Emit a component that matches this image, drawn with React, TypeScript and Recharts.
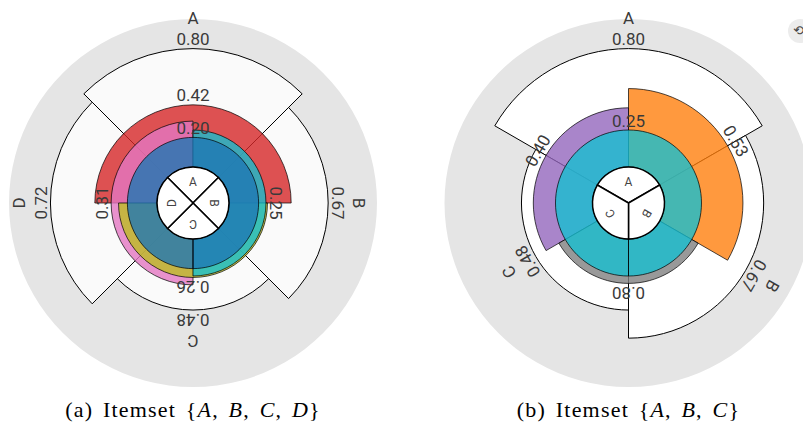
import { RadialBarChart, RadialBar, PolarAngleAxis, PolarRadiusAxis, PieChart, Pie, LabelList } from 'recharts'

const W = 803
const H = 424
const HUB_R = 36
const MAX_R = 184
const RAD = Math.PI / 180
const TEXT_FONT = 'Roboto, "Noto Sans", sans-serif'

// panel (a): itemset {A, B, C, D}
const itemsA = ['A', 'B', 'C', 'D']
const supportA = [0.8, 0.67, 0.48, 0.72]
const supportLabelsA = ['0.80', '0.67', '0.48', '0.72']
const layerSetsA = ['ABD', 'ACD', 'BCD', 'ABC', 'ABCD']
const layerFromA = ['D', 'C', 'B', 'A', 'A']
const layerToA = ['B', 'A', 'D', 'C', 'A']
const layerValuesA = [0.42, 0.31, 0.26, 0.25, 0.2]
const layerLabelsA = ['0.42', '0.31', '0.26', '0.25', '0.20']
const layerColorsA = ['#d62728', '#e377c2', '#bcbd22', '#17becf', '#1f77b4']

// panel (b): itemset {A, B, C}
const itemsB = ['A', 'B', 'C']
const supportB = [0.8, 0.67, 0.48]
const supportLabelsB = ['0.80', '0.67', '0.48']
const layerSetsB = ['AB', 'AC', 'BC', 'ABC']
const layerFromB = ['A', 'C', 'B', 'A']
const layerToB = ['B', 'A', 'C', 'A']
const layerValuesB = [0.53, 0.4, 0.3, 0.25]
const layerLabelsB = ['0.53', '0.40', '0.80', '0.25']
const layerColorsB = ['#ff7f0e', '#9467bd', '#7f7f7f', '#17becf']

// center angle of an item (A on top, clockwise)
function itemAngle(items: string[], item: string) {
  return 90 - (items.indexOf(item) * 360) / items.length
}

// text placed just outside a polar sector, rotated along the arc
function arcText(gap: number, size: number, fill: string) {
  return (props: any) => {
    const { viewBox, value } = props
    if (!viewBox) return null
    const { cx, cy, outerRadius, startAngle, endAngle } = viewBox
    const mid = (startAngle + endAngle) / 2
    const r = outerRadius + gap
    const x = cx + r * Math.cos(-mid * RAD)
    const y = cy + r * Math.sin(-mid * RAD)
    return (
      <text
        x={x}
        y={y}
        transform={`rotate(${90 - mid} ${x} ${y})`}
        textAnchor="middle"
        fontSize={size}
        fill={fill}
        fontFamily={TEXT_FONT}
      >
        {value}
      </text>
    )
  }
}

function hubLabel(props: any) {
  const { cx, cy, midAngle, name } = props
  const r = 21
  const x = cx + r * Math.cos(-midAngle * RAD)
  const y = cy + r * Math.sin(-midAngle * RAD)
  return (
    <text
      x={x}
      y={y}
      transform={`rotate(${90 - midAngle} ${x} ${y})`}
      textAnchor="middle"
      dominantBaseline="central"
      fontSize={12}
      fill="#444"
      fontFamily={TEXT_FONT}
    >
      {name}
    </text>
  )
}

const layerStyle: React.CSSProperties = { position: 'absolute', left: 0, top: 0 }

// clockwise span startAngle -> endAngle. The polar angle axis puts a category
// band one bandwidth past its scale position, so the range is shifted back by one band.
function RoseLayer({ cx, data, startAngle, endAngle, fill, fillOpacity, strokeOpacity, withNames }: any) {
  const band = (startAngle - endAngle) / data.length
  return (
    <div style={layerStyle}>
      <RadialBarChart
        width={W}
        height={H}
        cx={cx}
        cy={203}
        innerRadius={HUB_R}
        outerRadius={MAX_R}
        startAngle={startAngle - band}
        endAngle={endAngle - band}
        layout="centric"
        data={data}
        barCategoryGap={0}
        barGap={0}
        margin={{ top: 0, right: 0, bottom: 0, left: 0 }}
      >
        <PolarAngleAxis type="category" dataKey="name" tick={false} axisLine={false} tickLine={false} />
        <PolarRadiusAxis type="number" domain={[0, 1]} tick={false} axisLine={false} tickLine={false} />
        <RadialBar
          dataKey="value"
          fill={fill}
          fillOpacity={fillOpacity}
          stroke="#000"
          strokeOpacity={strokeOpacity}
          strokeWidth={1}
          isAnimationActive={false}
        >
          <LabelList dataKey="label" content={arcText(3.5, 17, '#3a3a3a')} />
          {withNames && <LabelList dataKey="name" content={arcText(25, 17, '#3a3a3a')} />}
        </RadialBar>
      </RadialBarChart>
    </div>
  )
}

function RosePanel({ cx, items, support, supportLabels, sets, from, to, values, labels, colors, outerOpacity, caption }: any) {
  const first = itemAngle(items, items[0]) + 180 / items.length
  const outerData = items.map((name: string, i: number) => ({ name, value: support[i], label: supportLabels[i] }))
  const hubData = items.map((name: string) => ({ name, value: 1 }))
  return (
    <>
      <div style={layerStyle}>
        <PieChart width={W} height={H} margin={{ top: 0, right: 0, bottom: 0, left: 0 }}>
          <Pie
            data={[{ name: 'bg', value: 1 }]}
            dataKey="value"
            cx={cx}
            cy={203}
            outerRadius={MAX_R}
            fill="#e5e5e5"
            stroke="none"
            isAnimationActive={false}
          />
        </PieChart>
      </div>
      <RoseLayer
        cx={cx}
        data={outerData}
        startAngle={first}
        endAngle={first - 360}
        fill="#ffffff"
        fillOpacity={outerOpacity}
        strokeOpacity={1}
        withNames
      />
      {sets.map((set: string, i: number) => {
        // clockwise span from item "from" to item "to"
        let start = itemAngle(items, from[i])
        let end = itemAngle(items, to[i])
        if (from[i] === to[i]) {
          start = 270
          end = -90
        } else {
          while (end >= start) end -= 360
        }
        return (
          <RoseLayer
            key={set}
            cx={cx}
            data={[{ name: set, value: values[i], label: labels[i] }]}
            startAngle={start}
            endAngle={end}
            fill={colors[i]}
            fillOpacity={0.8}
            strokeOpacity={0.7}
          />
        )
      })}
      <div style={layerStyle}>
        <PieChart width={W} height={H} margin={{ top: 0, right: 0, bottom: 0, left: 0 }}>
          <Pie
            data={hubData}
            dataKey="value"
            cx={cx}
            cy={203}
            outerRadius={HUB_R}
            startAngle={first}
            endAngle={first - 360}
            fill="#ffffff"
            stroke="#000"
            strokeWidth={1.5}
            label={hubLabel}
            labelLine={false}
            isAnimationActive={false}
          />
        </PieChart>
      </div>
      <div
        style={{
          position: 'absolute',
          left: cx - 200,
          width: 400,
          top: 398,
          textAlign: 'center',
          fontFamily: '"Liberation Serif", "DejaVu Serif", serif',
          fontSize: 22,
          lineHeight: '24px',
          letterSpacing: 1.2,
          wordSpacing: 3,
          color: '#000',
        }}
      >
        {caption}
      </div>
    </>
  )
}

export default function App() {
  return (
    <div style={{ position: 'absolute', left: 0, top: 0, width: W, height: H, overflow: 'hidden', background: '#fff' }}>
      <RosePanel
        cx={193}
        items={itemsA}
        support={supportA}
        supportLabels={supportLabelsA}
        sets={layerSetsA}
        from={layerFromA}
        to={layerToA}
        values={layerValuesA}
        labels={layerLabelsA}
        colors={layerColorsA}
        outerOpacity={0.8}
        caption={<>(a) Itemset {'{'}<i>A</i>, <i>B</i>, <i>C</i>, <i>D</i>{'}'}</>}
      />
      <RosePanel
        cx={628.5}
        items={itemsB}
        support={supportB}
        supportLabels={supportLabelsB}
        sets={layerSetsB}
        from={layerFromB}
        to={layerToB}
        values={layerValuesB}
        labels={layerLabelsB}
        colors={layerColorsB}
        outerOpacity={1}
        caption={<>(b) Itemset {'{'}<i>A</i>, <i>B</i>, <i>C</i>{'}'}</>}
      />
      <div
        style={{
          position: 'absolute',
          left: 788,
          top: 19,
          width: 24,
          height: 24,
          borderRadius: 12,
          background: '#ececec',
          color: '#444',
          fontSize: 13,
          lineHeight: '24px',
          textIndent: 5,
          fontFamily: '"DejaVu Sans", sans-serif',
        }}
      >
        ⟲
      </div>
    </div>
  )
}
